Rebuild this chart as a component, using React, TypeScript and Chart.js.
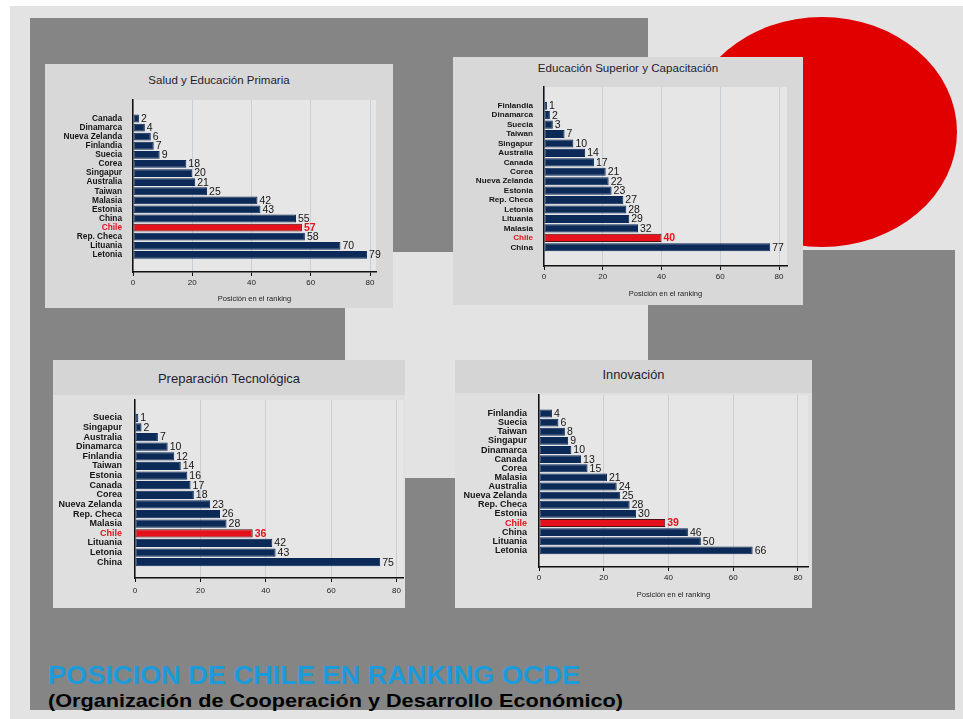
import { useEffect, useRef } from 'react'
import { Chart, registerables, ChartConfiguration, Plugin } from 'chart.js'

Chart.register(...registerables)

// Salud y Educación Primaria
const saludPaises = ['Canada', 'Dinamarca', 'Nueva Zelanda', 'Finlandia', 'Suecia', 'Corea', 'Singapur', 'Australia', 'Taiwan', 'Malasia', 'Estonia', 'China', 'Chile', 'Rep. Checa', 'Lituania', 'Letonia']
const saludValores = [2, 4, 6, 7, 9, 18, 20, 21, 25, 42, 43, 55, 57, 58, 70, 79]

// Educación Superior y Capacitación
const superiorPaises = ['Finlandia', 'Dinamarca', 'Suecia', 'Taiwan', 'Singapur', 'Australia', 'Canada', 'Corea', 'Nueva Zelanda', 'Estonia', 'Rep. Checa', 'Letonia', 'Lituania', 'Malasia', 'Chile', 'China']
const superiorValores = [1, 2, 3, 7, 10, 14, 17, 21, 22, 23, 27, 28, 29, 32, 40, 77]

// Preparación Tecnológica
const tecnoPaises = ['Suecia', 'Singapur', 'Australia', 'Dinamarca', 'Finlandia', 'Taiwan', 'Estonia', 'Canada', 'Corea', 'Nueva Zelanda', 'Rep. Checa', 'Malasia', 'Chile', 'Lituania', 'Letonia', 'China']
const tecnoValores = [1, 2, 7, 10, 12, 14, 16, 17, 18, 23, 26, 28, 36, 42, 43, 75]

// Innovación
const innovPaises = ['Finlandia', 'Suecia', 'Taiwan', 'Singapur', 'Dinamarca', 'Canada', 'Corea', 'Malasia', 'Australia', 'Nueva Zelanda', 'Rep. Checa', 'Estonia', 'Chile', 'China', 'Lituania', 'Letonia']
const innovValores = [4, 6, 8, 9, 10, 13, 15, 21, 24, 25, 28, 30, 39, 46, 50, 66]

const xStep = 20
const xTitle = 'Posición en el ranking'

const FONT = '"Liberation Sans", Arial, Helvetica, sans-serif'
const AZUL = '#0c2a57'
const ROJO = '#e5121b'
const GRIS_OSCURO = '#858585'

type Box = { x: number; y: number; w: number; h: number }
type Area = { left: number; top: number; right: number; bottom: number }

type PanelProps = {
  titulo: string
  paises: string[]
  valores: number[]
  box: Box
  area: Area
  xMax: number
  yMin: number
  yMax: number
  titleY: number
  titleSize: number
  tickSize: number
  xTitleY?: number
  header?: number
  bg: string
  headerBg?: string
  tickPad: number
  xTickPad: number
}

const plotBg: Plugin<'bar'> = {
  id: 'plotBg',
  beforeDraw(chart) {
    const { ctx, chartArea: a } = chart
    ctx.save()
    ctx.fillStyle = '#e6e6e6'
    ctx.fillRect(a.left, a.top, a.right - a.left, a.bottom - a.top)
    ctx.restore()
  },
}

function valueLabels(paises: string[], valores: number[]): Plugin<'bar'> {
  return {
    id: 'valueLabels',
    afterDatasetsDraw(chart) {
      const { ctx } = chart
      const meta = chart.getDatasetMeta(0)
      ctx.save()
      ctx.textAlign = 'left'
      ctx.textBaseline = 'middle'
      meta.data.forEach((bar, i) => {
        const chile = paises[i] === 'Chile'
        ctx.font = `${chile ? 'bold ' : ''}10.5px ${FONT}`
        ctx.fillStyle = chile ? ROJO : '#151515'
        ctx.fillText(String(valores[i]), bar.x + 2, bar.y + 0.5)
      })
      ctx.restore()
    },
  }
}

function Panel(p: PanelProps) {
  const chartRef = useRef<HTMLCanvasElement>(null)

  useEffect(() => {
    if (!chartRef.current) return
    const { box, area, paises, valores } = p

    const config: ChartConfiguration<'bar'> = {
      type: 'bar',
      data: {
        datasets: [
          {
            data: valores.map((v, i) => ({ x: v, y: i })) as any,
            backgroundColor: paises.map((c) => (c === 'Chile' ? ROJO : AZUL)),
            borderColor: paises.map((c) => (c === 'Chile' ? '#4a1218' : AZUL)),
            borderWidth: 1,
            borderSkipped: false,
            barPercentage: 0.86,
            categoryPercentage: 1,
          },
        ],
      },
      options: {
        indexAxis: 'y',
        responsive: false,
        animation: false,
        layout: {
          padding: {
            left: 0,
            top: area.top - box.y,
            right: box.x + box.w - area.right,
            bottom: 0,
          },
        },
        plugins: {
          legend: { display: false },
          tooltip: { enabled: false },
          title: { display: false },
        },
        scales: {
          x: {
            type: 'linear',
            position: 'bottom',
            min: 0,
            max: p.xMax,
            ticks: {
              stepSize: xStep,
              includeBounds: false,
              color: '#222',
              padding: p.xTickPad,
              font: { family: FONT, size: 8 },
            },
            grid: {
              color: '#c6ced8',
              lineWidth: 1,
              drawTicks: true,
              tickLength: 4,
              tickColor: '#111',
            },
            border: { color: '#111', width: 1.5 },
            title: {
              display: p.xTitleY !== undefined,
              text: xTitle,
              color: '#222',
              font: { family: FONT, size: 7.5 },
              padding: { top: 0, bottom: p.xTitleY !== undefined ? box.y + box.h - p.xTitleY - 4.5 : 0 },
            },
            afterFit: (scale) => {
              scale.height = box.y + box.h - area.bottom
            },
          },
          y: {
            type: 'linear',
            min: p.yMin,
            max: p.yMax,
            reverse: true,
            afterBuildTicks: (scale) => {
              scale.ticks = paises.map((_, i) => ({ value: i }))
            },
            ticks: {
              autoSkip: false,
              padding: p.tickPad,
              callback: (v) => paises[Number(v)],
              color: (ctx) => (paises[ctx.index] === 'Chile' ? ROJO : '#151515'),
              font: { family: FONT, size: p.tickSize, weight: 'bold' },
            },
            grid: { display: false, drawTicks: false },
            border: { display: true, color: '#111', width: 1.5 },
            afterFit: (scale) => {
              scale.width = area.left - box.x
            },
          },
        },
      },
      plugins: [plotBg, valueLabels(paises, valores)],
    }

    const chart = new Chart(chartRef.current, config)
    return () => chart.destroy()
  }, [])

  const { box } = p
  return (
    <div style={{ position: 'absolute', left: box.x, top: box.y, width: box.w, height: box.h, background: p.bg }}>
      {p.header ? (
        <div style={{ position: 'absolute', left: 0, top: 0, width: box.w, height: p.header, background: p.headerBg }} />
      ) : null}
      <div
        style={{
          position: 'absolute',
          left: 0,
          width: box.w,
          top: p.titleY - box.y - p.titleSize * 0.6,
          textAlign: 'center',
          fontFamily: FONT,
          fontSize: p.titleSize,
          lineHeight: 1.2,
          color: '#1e2230',
          whiteSpace: 'nowrap',
        }}
      >
        {p.titulo}
      </div>
      <canvas ref={chartRef} width={box.w} height={box.h} style={{ position: 'absolute', left: 0, top: 0 }} />
    </div>
  )
}

const rect = (x1: number, y1: number, x2: number, y2: number, color: string) => (
  <div style={{ position: 'absolute', left: x1, top: y1, width: x2 - x1, height: y2 - y1, background: color }} />
)

export default function App() {
  return (
    <div style={{ position: 'fixed', left: 0, top: 0, width: 963, height: 719, background: '#ffffff', overflow: 'hidden' }}>
      {rect(10, 6, 963, 719, '#e3e3e3')}
      {rect(30, 18, 648, 252, GRIS_OSCURO)}
      {rect(30, 18, 345, 710, GRIS_OSCURO)}
      {rect(648, 250, 955, 710, GRIS_OSCURO)}
      {rect(30, 478, 955, 710, GRIS_OSCURO)}
      <div
        style={{
          position: 'absolute',
          left: 687,
          top: 17,
          width: 270,
          height: 230,
          borderRadius: '50%',
          background: '#e00000',
        }}
      />

      <Panel
        titulo="Salud y Educación Primaria"
        paises={saludPaises}
        valores={saludValores}
        box={{ x: 45, y: 64, w: 348, h: 244 }}
        area={{ left: 133, top: 100, right: 376, bottom: 272 }}
        xMax={82}
        yMin={-1.44}
        yMax={16.29}
        titleY={81}
        titleSize={11.5}
        tickSize={8.3}
        xTitleY={299}
        bg="#d8d8d8"
        tickPad={11}
        xTickPad={2}
      />
      <Panel
        titulo="Educación Superior y Capacitación"
        paises={superiorPaises}
        valores={superiorValores}
        box={{ x: 453, y: 57, w: 350, h: 248 }}
        area={{ left: 544, top: 87, right: 787, bottom: 266 }}
        xMax={82.7}
        yMin={-1.39}
        yMax={16.39}
        titleY={68}
        titleSize={11.6}
        tickSize={8.1}
        xTitleY={294}
        bg="#d8d8d8"
        tickPad={11}
        xTickPad={2}
      />
      <Panel
        titulo="Preparación Tecnológica"
        paises={tecnoPaises}
        valores={tecnoValores}
        box={{ x: 53, y: 360, w: 352, h: 248 }}
        area={{ left: 135, top: 400, right: 405, bottom: 578 }}
        xMax={82.1}
        yMin={-1.27}
        yMax={16.07}
        titleY={379}
        titleSize={13}
        tickSize={9}
        header={35}
        bg="#dfdfdf"
        headerBg="#d5d5d5"
        tickPad={13}
        xTickPad={4}
      />
      <Panel
        titulo="Innovación"
        paises={innovPaises}
        valores={innovValores}
        box={{ x: 455, y: 360, w: 357, h: 248 }}
        area={{ left: 539, top: 395, right: 808, bottom: 567 }}
        xMax={83.1}
        yMin={-1.44}
        yMax={16.23}
        titleY={375}
        titleSize={12.8}
        tickSize={9}
        xTitleY={595}
        header={33}
        bg="#dfdfdf"
        headerBg="#d5d5d5"
        tickPad={12}
        xTickPad={2}
      />

      <div
        style={{
          position: 'absolute',
          left: 48,
          top: 662.7,
          fontFamily: FONT,
          fontWeight: 'bold',
          fontSize: 25.5,
          lineHeight: 1,
          color: '#1b9bdb',
          whiteSpace: 'nowrap',
          transform: 'scaleX(1.064)',
          transformOrigin: 'left top',
        }}
      >
        POSICION DE CHILE EN RANKING OCDE
      </div>
      <div
        style={{
          position: 'absolute',
          left: 48,
          top: 691.8,
          fontFamily: FONT,
          fontWeight: 'bold',
          fontSize: 18.5,
          lineHeight: 1,
          color: '#000',
          whiteSpace: 'nowrap',
          transform: 'scaleX(1.17)',
          transformOrigin: 'left top',
        }}
      >
        (Organización de Cooperación y Desarrollo Económico)
      </div>
    </div>
  )
}
